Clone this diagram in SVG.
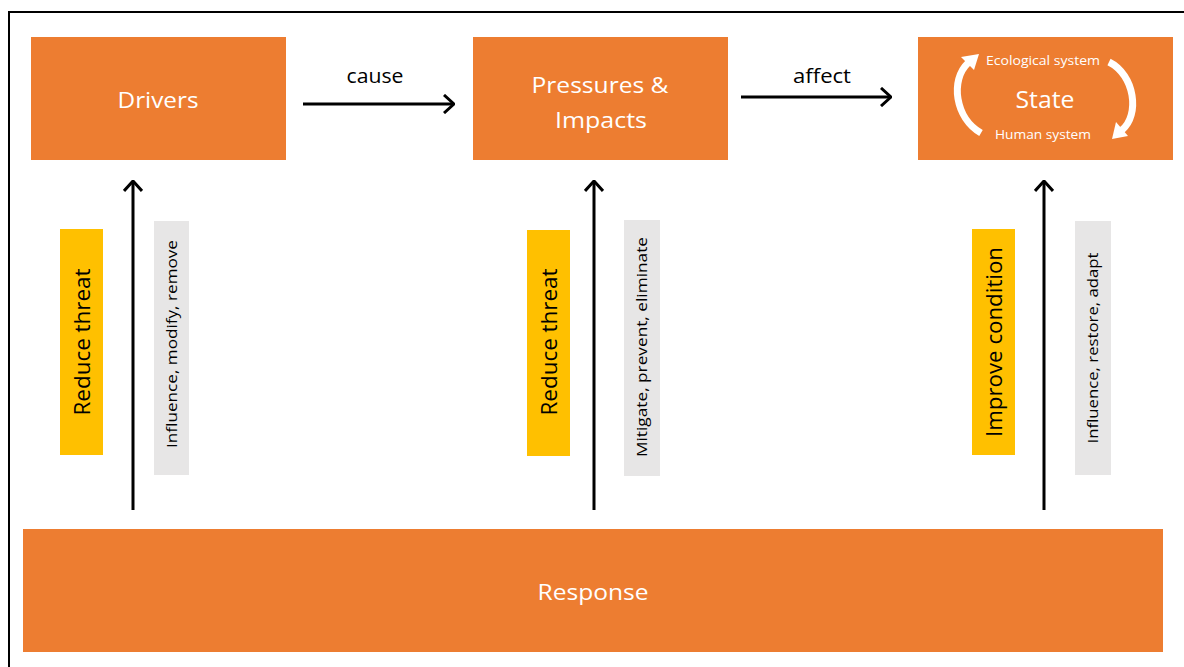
<svg xmlns="http://www.w3.org/2000/svg" width="1184" height="667" viewBox="0 0 1184 667">
<defs>
<style>
.box{fill:#ED7D31}
.yel{fill:#FFC000}
.gry{fill:#E7E6E6}
.wt{fill:#FFFFFF;font-family:"Open Sans","Noto Sans",sans-serif;text-anchor:middle}
.bt{fill:#000000;font-family:"Open Sans","Noto Sans",sans-serif;text-anchor:middle}
.ln{stroke:#000;stroke-width:3;fill:none}
</style>
<marker id="ah" viewBox="0 0 12 20" refX="11" refY="10" markerWidth="12" markerHeight="20" markerUnits="userSpaceOnUse" orient="auto">
<path d="M1,1 L11,10 L1,19" fill="none" stroke="#000" stroke-width="3"/>
</marker>
</defs>
<rect width="1184" height="667" fill="#fff"/>
<rect x="9" y="12" width="1200" height="700" fill="none" stroke="#000" stroke-width="2"/>

<g id="drivers">
<rect class="box" x="31" y="37" width="255" height="123"/>
<text class="wt" x="158" y="108" font-size="22" textLength="81" lengthAdjust="spacingAndGlyphs">Drivers</text>
</g>
<g id="pressures">
<rect class="box" x="473" y="37" width="255" height="123"/>
<text class="wt" x="600" y="93" font-size="22" textLength="137" lengthAdjust="spacingAndGlyphs">Pressures &amp;</text>
<text class="wt" x="601" y="128" font-size="22" textLength="92" lengthAdjust="spacingAndGlyphs">Impacts</text>
</g>
<g id="state">
<rect class="box" x="918" y="37" width="255" height="123"/>
<text class="wt" x="1045" y="108" font-size="23" textLength="59" lengthAdjust="spacingAndGlyphs">State</text>
<text class="wt" x="1043" y="65" font-size="13" textLength="114" lengthAdjust="spacingAndGlyphs">Ecological system</text>
<text class="wt" x="1043" y="139" font-size="13" textLength="96" lengthAdjust="spacingAndGlyphs">Human system</text>
<path d="M981 133 C955 118 950 80 968 63" fill="none" stroke="#fff" stroke-width="7"/>
<polygon points="979,54 974,70 961,57" fill="#fff"/>
<path d="M1109 62 C1135 75 1140 115 1122 130" fill="none" stroke="#fff" stroke-width="7"/>
<polygon points="1112,139 1128,136 1116,122" fill="#fff"/>
</g>
<g id="response">
<rect class="box" x="23" y="529" width="1140" height="123"/>
<text class="wt" x="593" y="600" font-size="22" textLength="111" lengthAdjust="spacingAndGlyphs">Response</text>
</g>

<g id="label-reduce-1">
<rect class="yel" x="60" y="229" width="43" height="226"/>
<text class="bt" transform="translate(90,342) rotate(-90)" font-size="22" textLength="147" lengthAdjust="spacingAndGlyphs">Reduce threat</text>
</g>
<g id="label-influence-1">
<rect class="gry" x="154" y="221" width="35" height="254"/>
<text class="bt" transform="translate(177,344) rotate(-90)" font-size="14" textLength="208" lengthAdjust="spacingAndGlyphs">Influence, modify, remove</text>
</g>
<g id="label-reduce-2">
<rect class="yel" x="527" y="230" width="43" height="226"/>
<text class="bt" transform="translate(557,342) rotate(-90)" font-size="22" textLength="147" lengthAdjust="spacingAndGlyphs">Reduce threat</text>
</g>
<g id="label-mitigate">
<rect class="gry" x="624" y="220" width="36" height="256"/>
<text class="bt" transform="translate(647,347) rotate(-90)" font-size="14" textLength="220" lengthAdjust="spacingAndGlyphs">Mitigate, prevent, eliminate</text>
</g>
<g id="label-improve">
<rect class="yel" x="972" y="229" width="43" height="226"/>
<text class="bt" transform="translate(1002,342) rotate(-90)" font-size="22" textLength="190" lengthAdjust="spacingAndGlyphs">Improve condition</text>
</g>
<g id="label-influence-2">
<rect class="gry" x="1075" y="221" width="36" height="254"/>
<text class="bt" transform="translate(1098,348) rotate(-90)" font-size="14" textLength="191" lengthAdjust="spacingAndGlyphs">Influence, restore, adapt</text>
</g>

<g id="connectors">
<line class="ln" x1="303" y1="104" x2="454" y2="104" marker-end="url(#ah)"/>
<line class="ln" x1="741" y1="97" x2="891" y2="97" marker-end="url(#ah)"/>
<line class="ln" x1="133" y1="510" x2="133" y2="181" marker-end="url(#ah)"/>
<line class="ln" x1="594" y1="510" x2="594" y2="181" marker-end="url(#ah)"/>
<line class="ln" x1="1044" y1="510" x2="1044" y2="181" marker-end="url(#ah)"/>
<text class="bt" x="375" y="83" font-size="20" textLength="57" lengthAdjust="spacingAndGlyphs">cause</text>
<text class="bt" x="822" y="83" font-size="20" textLength="58" lengthAdjust="spacingAndGlyphs">affect</text>
</g>
</svg>
